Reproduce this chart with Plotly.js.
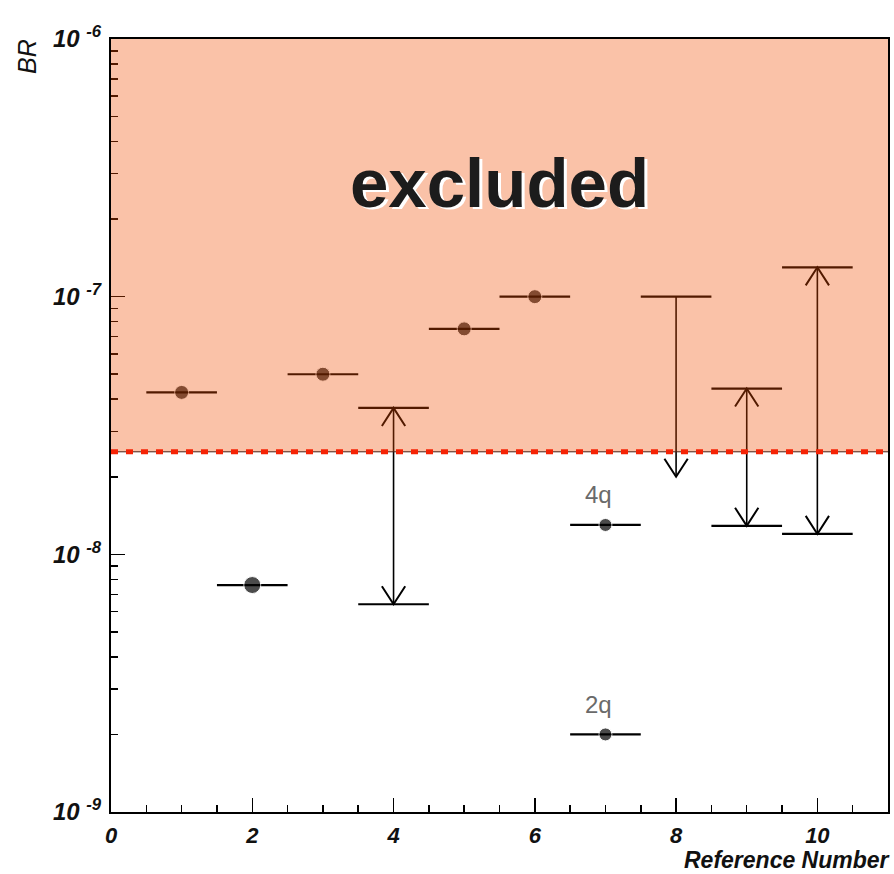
<!DOCTYPE html>
<html>
<head>
<meta charset="utf-8">
<script src="https://cdn.plot.ly/plotly-3.0.1.min.js"></script>
<style>html,body{margin:0;padding:0;background:#fff;}#chart{width:894px;height:874px;}</style>
</head>
<body>
<div id="chart"></div>
<script>
// ---- data ----
const pointX = [1, 2, 3, 5, 6, 7, 7];
const pointY = [4.25e-8, 7.6e-9, 5.0e-8, 7.5e-8, 1.0e-7, 1.3e-8, 2.0e-9];
const pointLabels = ['', '', '', '', '', '4q', '2q'];
const rangeX = [4, 8, 9, 10];
const rangeLow = [6.4e-9, 2.0e-8, 1.29e-8, 1.2e-8];
const rangeHigh = [3.7e-8, 1.0e-7, 4.4e-8, 1.3e-7];
const rangeLowCap = [true, false, true, true];
const rangeHighArrow = [true, false, true, true];
const excludedLimit = 2.5e-8;
const excludedTop = 1e-6;
const xTickVals = [0, 2, 4, 6, 8, 10];
const xTickText = ['0', '2', '4', '6', '8', '10'];
const yTickVals = [1e-9, 1e-8, 1e-7, 1e-6];
const yTickText = ['10\u00a0<sup>-9</sup>', '10\u00a0<sup>-8</sup>', '10\u00a0<sup>-7</sup>', '10\u00a0<sup>-6</sup>'];

// ---- style constants ----
const halfBin = 0.5;
const headHalfW = 0.165;   // x units
const headHeight = 0.07;   // decades
const pointSizes = [14, 17, 14, 14, 14, 13, 13];

// minor log ticks
const yMinor = [];
for (let e = -9; e < -6; e++) for (let m = 2; m <= 9; m++) yMinor.push(m * Math.pow(10, e));

// vertical range lines
const vx = [], vy = [];
rangeX.forEach((x, i) => { vx.push(x, x, null); vy.push(rangeLow[i], rangeHigh[i], null); });
// caps
const cx = [], cy = [];
rangeX.forEach((x, i) => {
  cx.push(x - halfBin, x + halfBin, null); cy.push(rangeHigh[i], rangeHigh[i], null);
  if (rangeLowCap[i]) { cx.push(x - halfBin, x + halfBin, null); cy.push(rangeLow[i], rangeLow[i], null); }
});
// arrow heads
const ax = [], ay = [];
rangeX.forEach((x, i) => {
  const lo = rangeLow[i], hi = rangeHigh[i];
  const up = Math.pow(10, headHeight);
  ax.push(x - headHalfW, x, x + headHalfW, null); ay.push(lo * up, lo, lo * up, null);
  if (rangeHighArrow[i]) { ax.push(x - headHalfW, x, x + headHalfW, null); ay.push(hi / up, hi, hi / up, null); }
});

const traces = [
  {x: vx, y: vy, mode: 'lines', line: {color: '#000', width: 1.6}, hoverinfo: 'skip'},
  {x: cx, y: cy, mode: 'lines', line: {color: '#000', width: 2.2}, hoverinfo: 'skip'},
  {x: ax, y: ay, mode: 'lines', line: {color: '#000', width: 2}, hoverinfo: 'skip'},
  {x: pointX, y: pointY, mode: 'markers',
   marker: {color: '#000', size: pointSizes},
   error_x: {type: 'constant', value: halfBin, thickness: 2.2, width: 0, color: '#000'},
   hoverinfo: 'skip'}
];

const fam = 'Liberation Sans, Arial, sans-serif';
const yTickFont = {family: fam, size: 24, color: '#111', weight: 'bold', style: 'italic'};
const xTickFont = {family: fam, size: 22, color: '#111', weight: 'bold', style: 'italic'};

const annotations = [];
pointLabels.forEach((t, i) => {
  if (!t) return;
  annotations.push({x: pointX[i], y: Math.log10(pointY[i]), xref: 'x', yref: 'y', text: t, showarrow: false,
    xshift: -7, yshift: 30, font: {family: fam, size: 24, color: '#6a6a6a'}});
});
annotations.push(
  {x: 0.5, y: 0.866, xref: 'paper', yref: 'paper', text: 'excluded', showarrow: false, xshift: 2.5, yshift: -2.5,
   font: {family: fam, size: 69, color: '#fff', weight: 'bold'}},
  {x: 0.5, y: 0.866, xref: 'paper', yref: 'paper', text: 'excluded', showarrow: false,
   font: {family: fam, size: 69, color: '#1c1c1c', weight: 'bold'}},
  {x: (27 - 111) / 777, y: (812 - 57) / 773, xref: 'paper', yref: 'paper', xanchor: 'center', yanchor: 'middle',
   text: 'BR', showarrow: false, textangle: -90,
   font: {family: fam, size: 25, color: '#111', style: 'italic'}},
  {x: 1, y: 0, xref: 'paper', yref: 'paper', xanchor: 'right', yanchor: 'bottom', yshift: -62, xshift: 3,
   text: 'Reference Number', showarrow: false, borderpad: 0,
   font: {family: fam, size: 23, color: '#111', weight: 'bold', style: 'italic'}}
);

const layout = {
  width: 894, height: 874,
  margin: {l: 111, r: 6, t: 39, b: 62},
  paper_bgcolor: '#fff', plot_bgcolor: '#fff',
  showlegend: false, hovermode: false,
  xaxis: {range: [0, 11], showgrid: false, zeroline: false,
    showline: true, linecolor: '#000', linewidth: 2, mirror: true,
    tickmode: 'array', tickvals: xTickVals, ticktext: xTickText,
    ticks: 'inside', ticklen: 14, tickwidth: 1.5, tickcolor: '#000',
    minor: {tickmode: 'linear', tick0: 0, dtick: 0.5, ticks: 'inside', ticklen: 7, tickwidth: 1.5, tickcolor: '#000'},
    tickfont: xTickFont, ticklabelstandoff: 3},
  yaxis: {type: 'log', range: [-9, -6], showgrid: false, zeroline: false,
    showline: true, linecolor: '#000', linewidth: 2, mirror: true,
    tickmode: 'array', tickvals: yTickVals, ticktext: yTickText,
    ticks: 'inside', ticklen: 14, tickwidth: 1.5, tickcolor: '#000',
    minor: {tickmode: 'array', tickvals: yMinor, ticks: 'inside', ticklen: 7, tickwidth: 1.5, tickcolor: '#000'},
    tickfont: yTickFont, ticklabelstandoff: 3},
  shapes: [
    {type: 'rect', xref: 'x', yref: 'y', x0: 0, x1: 11, y0: excludedLimit, y1: excludedTop,
     fillcolor: 'rgb(240,75,0)', opacity: 0.34, line: {width: 0}, layer: 'above'},
    {type: 'line', xref: 'x', yref: 'y', x0: 0, x1: 11, y0: excludedLimit, y1: excludedLimit,
     line: {color: '#4a2015', width: 1}, layer: 'above'},
    {type: 'line', xref: 'x', yref: 'y', x0: 0, x1: 11, y0: excludedLimit, y1: excludedLimit,
     line: {color: 'rgb(245,35,5)', width: 5, dash: '7px,8px'}, layer: 'above'}
  ],
  annotations: annotations
};

Plotly.newPlot('chart', traces, layout, {staticPlot: true, displayModeBar: false});
</script>
</body>
</html>
